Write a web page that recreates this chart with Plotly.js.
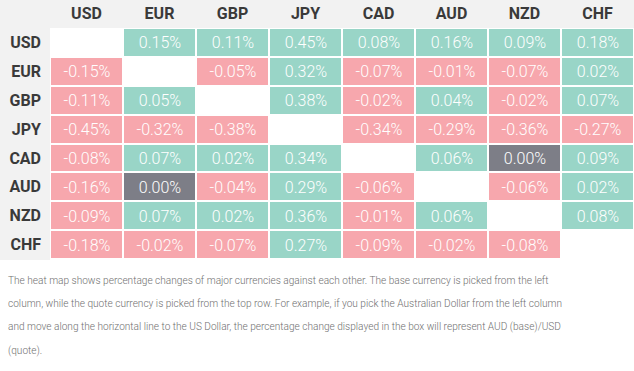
<!DOCTYPE html>
<html>
<head>
<meta charset="utf-8">
<script src="https://cdn.plot.ly/plotly-3.0.1.min.js"></script>
<style>html,body{margin:0;padding:0;background:#fff;}#chart{width:634px;height:371px;}</style>
</head>
<body>
<div id="chart"></div>
<script>
var currencies = ["USD", "EUR", "GBP", "JPY", "CAD", "AUD", "NZD", "CHF"];

var rowUSD = [null, 0.15, 0.11, 0.45, 0.08, 0.16, 0.09, 0.18];
var rowEUR = [-0.15, null, -0.05, 0.32, -0.07, -0.01, -0.07, 0.02];
var rowGBP = [-0.11, 0.05, null, 0.38, -0.02, 0.04, -0.02, 0.07];
var rowJPY = [-0.45, -0.32, -0.38, null, -0.34, -0.29, -0.36, -0.27];
var rowCAD = [-0.08, 0.07, 0.02, 0.34, null, 0.06, 0.00, 0.09];
var rowAUD = [-0.16, 0.00, -0.04, 0.29, -0.06, null, -0.06, 0.02];
var rowNZD = [-0.09, 0.07, 0.02, 0.36, -0.01, 0.06, null, 0.08];
var rowCHF = [-0.18, -0.02, -0.07, 0.27, -0.09, -0.02, -0.08, null];

var noteLines = [
  "The heat map shows percentage changes of major currencies against each other. The base currency is picked from the left",
  "column, while the quote currency is picked from the top row. For example, if you pick the Australian Dollar from the left column",
  "and move along the horizontal line to the US Dollar, the percentage change displayed in the box will represent AUD (base)/USD",
  "(quote)."
];

var values = [rowUSD, rowEUR, rowGBP, rowJPY, rowCAD, rowAUD, rowNZD, rowCHF];

var zSign = values.map(function (r) {
  return r.map(function (v) { return v === null ? null : (v > 0 ? 1 : (v < 0 ? -1 : 0)); });
});
var txt = values.map(function (r) {
  return r.map(function (v) { return v === null ? "" : v.toFixed(2) + "%"; });
});

var W = 634, H = 371, L = 50, T = 28, B = 112;
var pw = W - L, ph = H - T - B;

var pink = "#f7a7ad", gray = "#7d7e87", teal = "#99d5c7", bg = "#f2f2f2";

var trace = {
  type: "heatmap",
  x: currencies,
  y: currencies,
  z: zSign,
  text: txt,
  texttemplate: "%{text}",
  textfont: {family: "Roboto", size: 16, color: "#ffffff", weight: 300},
  zmin: -1, zmax: 1,
  colorscale: [[0, pink], [0.333, pink], [0.333, gray], [0.667, gray], [0.667, teal], [1, teal]],
  showscale: false,
  xgap: 2, ygap: 2,
  hoverinfo: "skip"
};

var annotations = noteLines.map(function (line, i) {
  var py = 280.5 + i * 23.4;
  return {
    xref: "paper", yref: "paper",
    x: (6 - L) / pw, y: -(py - (T + ph)) / ph,
    xanchor: "left", yanchor: "middle",
    text: line, showarrow: false,
    font: {family: "Roboto", size: 10.1, color: "#707070", weight: 300}
  };
});

var layout = {
  width: W, height: H,
  margin: {l: L, r: 0, t: T, b: B, pad: 0},
  paper_bgcolor: "#ffffff",
  plot_bgcolor: "#ffffff",
  showlegend: false,
  font: {family: "Roboto"},
  xaxis: {
    side: "top", type: "category",
    showgrid: false, zeroline: false, showline: false, ticks: "",
    ticklabelstandoff: 5,
    tickfont: {family: "Roboto", size: 16, color: "#3a3a3a", weight: "bold"},
    fixedrange: true
  },
  yaxis: {
    type: "category", autorange: "reversed",
    showgrid: false, zeroline: false, showline: false, ticks: "",
    ticklabelstandoff: 8,
    tickfont: {family: "Roboto", size: 16, color: "#3a3a3a", weight: "bold"},
    fixedrange: true
  },
  shapes: [
    {type: "rect", xref: "paper", yref: "paper", layer: "below",
     x0: -L / pw, x1: 1, y0: 1, y1: 1 + T / ph, fillcolor: bg, line: {width: 0}},
    {type: "rect", xref: "paper", yref: "paper", layer: "below",
     x0: -L / pw, x1: 0, y0: -1 / ph, y1: 1, fillcolor: bg, line: {width: 0}}
  ],
  annotations: annotations
};

Plotly.newPlot("chart", [trace], layout, {displayModeBar: false, staticPlot: true});
</script>
</body>
</html>
